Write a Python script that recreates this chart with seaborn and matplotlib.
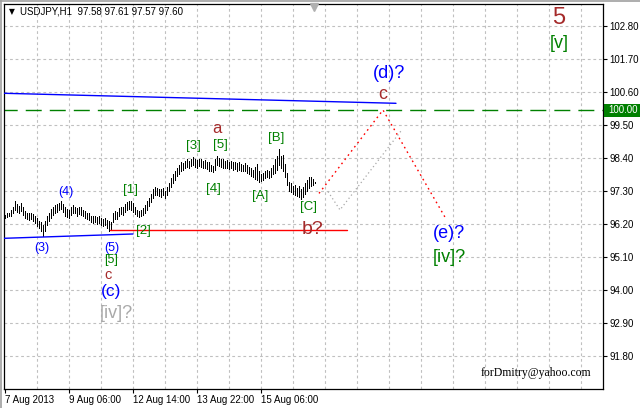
import numpy as np
import pandas as pd
import matplotlib
matplotlib.use("Agg")
import matplotlib.pyplot as plt
import seaborn as sns
from matplotlib.lines import Line2D
from matplotlib.patches import Rectangle
import matplotlib.transforms as mtransforms

# ---------------- data ----------------
highs = [96.50, 96.55, 96.58, 96.65, 96.75, 96.95, 96.85, 96.80, 96.90, 96.78,
         96.62, 96.58, 96.55, 96.57, 96.52, 96.48, 96.40, 96.30, 96.25, 96.15,
         96.30, 96.45, 96.58, 96.70, 96.78, 96.82, 96.85, 96.90, 96.98, 96.88,
         96.75, 96.70, 96.65, 96.75, 96.82, 96.78, 96.72, 96.78, 96.75, 96.68,
         96.62, 96.58, 96.55, 96.48, 96.45, 96.48, 96.42, 96.45, 96.40, 96.35,
         96.40, 96.32, 96.30, 96.28, 96.55, 96.62, 96.60, 96.72, 96.78, 96.75,
         96.88, 96.92, 96.98, 96.95, 96.90, 96.78, 96.68, 96.62, 96.65, 96.72,
         96.82, 96.95, 97.05, 97.20, 97.35, 97.42, 97.40, 97.38, 97.35, 97.40,
         97.30, 97.42, 97.55, 97.72, 97.85, 97.95, 98.05, 98.15, 98.25, 98.22,
         98.30, 98.35, 98.30, 98.38, 98.42, 98.35, 98.32, 98.38, 98.35, 98.30,
         98.33, 98.28, 98.25, 98.15, 98.12, 98.35, 98.47, 98.40, 98.38, 98.35,
         98.30, 98.33, 98.28, 98.30, 98.25, 98.27, 98.22, 98.25, 98.20, 98.18,
         98.22, 98.15, 98.10, 98.05, 98.00, 98.10, 98.20, 97.95, 97.85, 97.90,
         97.95, 98.00, 97.98, 98.05, 98.15, 98.35, 98.45, 98.70, 98.45, 98.50,
         98.20, 97.90, 97.60, 97.55, 97.45, 97.50, 97.40, 97.45, 97.35, 97.42,
         97.55, 97.65, 97.78, 97.75, 97.70, 97.61]
lows = [96.40, 96.42, 96.45, 96.47, 96.55, 96.65, 96.60, 96.58, 96.62, 96.50,
        96.40, 96.35, 96.33, 96.36, 96.30, 96.22, 96.12, 96.05, 95.95, 95.80,
        95.95, 96.15, 96.30, 96.40, 96.50, 96.55, 96.60, 96.65, 96.70, 96.60,
        96.45, 96.42, 96.40, 96.50, 96.58, 96.55, 96.48, 96.52, 96.50, 96.45,
        96.40, 96.38, 96.32, 96.25, 96.22, 96.25, 96.20, 96.22, 96.18, 96.12,
        96.15, 96.08, 95.97, 96.00, 96.25, 96.38, 96.35, 96.45, 96.52, 96.50,
        96.60, 96.65, 96.70, 96.68, 96.60, 96.52, 96.45, 96.42, 96.45, 96.50,
        96.58, 96.68, 96.80, 96.92, 97.05, 97.15, 97.18, 97.12, 97.10, 97.15,
        97.05, 97.15, 97.30, 97.42, 97.55, 97.68, 97.80, 97.85, 97.95, 98.00,
        98.05, 98.10, 98.05, 98.12, 98.15, 98.10, 98.05, 98.12, 98.10, 98.05,
        98.08, 98.02, 97.98, 97.95, 97.92, 98.00, 98.15, 98.12, 98.10, 98.08,
        98.05, 98.08, 98.02, 98.05, 98.00, 98.03, 97.98, 98.00, 97.98, 97.95,
        97.98, 97.90, 97.85, 97.80, 97.75, 97.70, 97.65, 97.60, 97.62, 97.68,
        97.72, 97.75, 97.73, 97.78, 97.85, 97.90, 98.00, 98.15, 98.05, 97.95,
        97.75, 97.50, 97.30, 97.25, 97.20, 97.18, 97.12, 97.10, 97.03, 97.10,
        97.20, 97.30, 97.40, 97.45, 97.50, 97.57]

chart_title = "USDJPY,H1  97.58 97.61 97.57 97.60"
x_tick_pos = [0, 32, 64, 96, 128]
x_tick_labels = ["7 Aug 2013", "9 Aug 06:00", "12 Aug 14:00", "13 Aug 22:00", "15 Aug 06:00"]
y_ticks = [91.80, 92.90, 94.00, 95.10, 96.20, 97.30, 98.40, 99.50, 100.60, 101.70, 102.80]
level_price = 100.00

upper_trend_x = [-0.35, 195.65]
upper_trend_y = [100.557, 100.223]
lower_trend_x = [-0.35, 64.15]
lower_trend_y = [95.723, 95.867]
hline_x = [52.65, 171.35]
hline_y = [95.99, 95.99]
proj_red_x = [157.15, 189.15, 220.65]
proj_red_y = [97.22, 100.0, 96.37]
proj_gray_x = [161.65, 167.65, 198.5]
proj_gray_y = [97.28, 96.67, 99.33]

label_texts = ["5", "[v]", "(d)?", "c", "a", "[5]", "[3]", "[B]", "[4]", "[A]", "[C]",
               "[1]", "[2]", "(4)", "(3)", "(5)", "[5]", "c", "(c)", "[iv]?", "b?",
               "(e)?", "[iv]?"]
label_x = [276.9, 277.2, 192.4, 188.9, 105.9, 107.7, 94.4, 135.9, 104.4, 127.65, 151.9,
           63.15, 69.4, 30.4, 18.4, 53.4, 53.15, 51.9, 53.15, 55.65, 154.15,
           222.4, 222.15]
label_y = [103.05, 102.2, 101.22, 100.53, 99.38, 98.83, 98.8, 99.05, 97.38, 97.12, 96.78,
           97.32, 95.97, 97.28, 95.39, 95.40, 94.99, 94.49, 93.95, 93.2, 96.03,
           95.87, 95.07]

BROWN = "#A52A2A"
GREEN = "#008000"
BLUE = "#0000FF"
GRAY = "#A9A9A9"
label_colors = [BROWN, GREEN, BLUE, BROWN, BROWN, GREEN, GREEN, GREEN, GREEN, GREEN, GREEN,
                GREEN, GREEN, BLUE, BLUE, BLUE, GREEN, BROWN, BLUE, GRAY, BROWN,
                BLUE, GREEN]
label_sizes = [17, 13, 13, 13, 12, 9.5, 9.5, 9.5, 9.5, 9.5, 9.5,
               9.5, 9.5, 9, 9, 9, 9, 10.5, 12.5, 13, 14,
               13, 13]

# ---------------- figure ----------------
sns.set_theme(style="white")
plt.rcParams["font.family"] = ["Liberation Sans", "DejaVu Sans"]

W, H = 640, 408
fig = plt.figure(figsize=(6.4, 4.08), dpi=100)
ax = fig.add_axes([4 / W, 19 / H, 599 / W, 385 / H])
ax.set_facecolor("white")
ax.set_xlim(-0.35, 299.15)
ax.set_ylim(90.70, 103.533)

# grid
for gx in np.arange(16, 299, 16):
    ax.axvline(gx, color="#C0C0C0", lw=0.8, ls=(0, (2.5, 2.5)), zorder=0)
for gy in y_ticks:
    ax.axhline(gy, color="#C0C0C0", lw=0.8, ls=(0, (2.5, 2.5)), zorder=0)

# price bars
df = pd.DataFrame({"bar": np.arange(len(highs)), "high": highs, "low": lows})
ax.vlines(df["bar"], df["low"], df["high"], color="black", lw=0.55, antialiased=False, zorder=3)

# trend lines
sns.lineplot(x=upper_trend_x, y=upper_trend_y, ax=ax, color=BLUE, lw=1.0, zorder=4)
sns.lineplot(x=lower_trend_x, y=lower_trend_y, ax=ax, color=BLUE, lw=1.0, zorder=4)
sns.lineplot(x=hline_x, y=hline_y, ax=ax, color="#FF0000", lw=1.0, zorder=4)
ax.axhline(level_price, color=GREEN, lw=1.0, ls=(2, (11.5, 5.8)), zorder=2)

# projections
ax.plot(proj_red_x, proj_red_y, color="#FF0000", lw=1.0, ls=(0, (1.2, 2.6)), zorder=4)
ax.plot(proj_gray_x, proj_gray_y, color="#A8A8A8", lw=0.9, ls=(0, (1.0, 2.2)), zorder=4)

# wave labels
for t, x, y, c, s in zip(label_texts, label_x, label_y, label_colors, label_sizes):
    ax.text(x, y, t, color=c, fontsize=s, ha="center", va="center", zorder=5)

ax.text(265.65, 91.23, "forDmitry@yahoo.com", family=["Liberation Serif", "DejaVu Serif"],
        fontsize=8.5, color="black", ha="center", va="center", zorder=5)

# axes ticks
ax.yaxis.tick_right()
ax.set_yticks(y_ticks)
ax.set_yticklabels([f"{v:.2f}" for v in y_ticks])
ax.set_xticks(x_tick_pos)
ax.set_xticklabels(x_tick_labels)
for lab in ax.get_xticklabels():
    lab.set_ha("left")
ax.tick_params(axis="y", which="major", right=True, left=False, length=3, width=0.8,
               pad=1.5, labelsize=7, colors="black")
ax.tick_params(axis="x", which="major", bottom=True, length=3, width=0.8,
               pad=1.5, labelsize=7, colors="black")
for sp in ax.spines.values():
    sp.set_color("black")
    sp.set_linewidth(0.9)
    sp.set_visible(True)

# title line
fig.text(20 / W, 1 - 12 / H, chart_title, fontsize=7, color="black", ha="left", va="center")
fig.text(12 / W, 1 - 12 / H, "▼", fontsize=5.5, color="black", ha="center", va="center",
         family=["DejaVu Sans"])

# chart shift marker
trans = mtransforms.blended_transform_factory(ax.transData, ax.transAxes)
ax.plot([154.6], [0.992], marker="v", ms=6, color="#B0B0B0", transform=trans,
        clip_on=False, zorder=6)

# price level box
fig.patches.append(Rectangle((604 / W, 1 - 116.5 / H), 36 / W, 13 / H,
                             transform=fig.transFigure, facecolor=GREEN, edgecolor="none"))
fig.text(608 / W, 1 - 110 / H, "100.00", fontsize=7, color="white", ha="left", va="center")

# window border
fig.add_artist(Line2D([0, 1], [1 - 0.8 / H, 1 - 0.8 / H], transform=fig.transFigure,
                      color="#A0A0A0", lw=1.2))
fig.add_artist(Line2D([0.8 / W, 0.8 / W], [0, 1], transform=fig.transFigure,
                      color="#A0A0A0", lw=1.2))

fig.savefig("out.png", dpi=100, facecolor="white")
